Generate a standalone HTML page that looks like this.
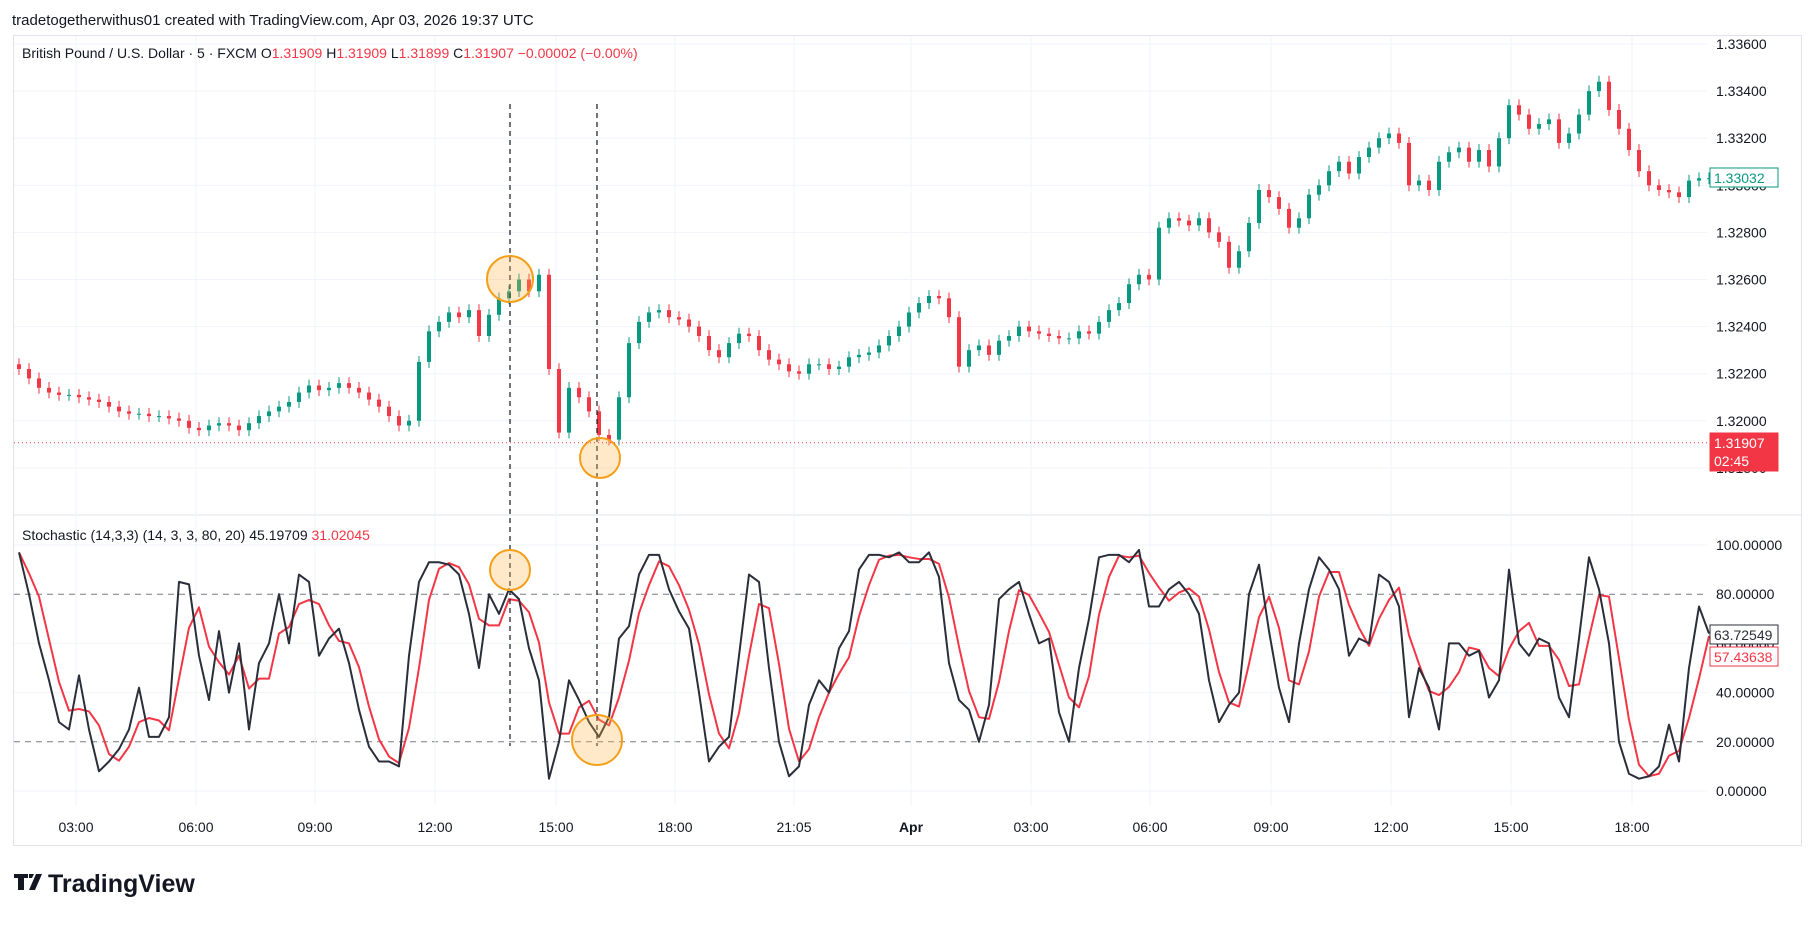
<!DOCTYPE html>
<html><head><meta charset="utf-8"><style>
body{margin:0;background:#fff;width:1814px;height:920px;overflow:hidden;font-family:"Liberation Sans",sans-serif}
svg text{font-family:"Liberation Sans",sans-serif}
</style></head><body>
<svg id="c" width="1814" height="920" xmlns="http://www.w3.org/2000/svg">
<text x="12" y="25" font-size="15" fill="#131722">tradetogetherwithus01 created with TradingView.com, Apr 03, 2026 19:37 UTC</text>
<rect x="13.5" y="35.5" width="1788" height="810" fill="#fff" stroke="#e0e3eb"/>
<line x1="14" y1="515" x2="1801" y2="515" stroke="#e0e3eb"/>
<g id="grid"></g><g id="marks"></g><g id="stoch"></g><g id="axes"></g><g id="annot"></g>
<text x="22" y="58" font-size="14" fill="#131722">British Pound / U.S. Dollar · 5 · FXCM  O<tspan fill="#f23645">1.31909</tspan>  H<tspan fill="#f23645">1.31909</tspan>  L<tspan fill="#f23645">1.31899</tspan>  C<tspan fill="#f23645">1.31907  −0.00002 (−0.00%)</tspan></text>
<text x="22" y="540" font-size="14" fill="#131722">Stochastic (14,3,3) (14, 3, 3, 80, 20)  45.19709  <tspan fill="#f23645">31.02045</tspan></text>
<g>
<path d="M14 874h14v4h-4v12h-6v-12h-4z M29 874h5l-2 4h-3z M36 874h6l-7 16h-6z" fill="#131722"/>
<text x="48" y="892" font-size="25" font-weight="bold" fill="#131722">TradingView</text>
</g>
</svg>
<script>
const closes=[22,18,14,12,11,11,10,9,8,6,4,3,3,2,2,1,0,-3,-4,-2,-1,-2,-4,-1,2,4,6,8,12,15,13,14,16,14,12,9,6,2,-2,0,25,38,42,46,44,47,36,45,52,55,60,55,62,22,-5,14,10,4,-6,-8,10,33,42,46,47,44,43,40,36,30,27,33,37,36,30,26,24,21,20,24,24,22,23,27,28,29,32,36,40,46,50,53,52,44,23,30,32,28,34,36,40,38,37,36,35,35,38,37,42,47,50,58,62,60,82,86,85,83,86,80,76,65,72,84,98,95,90,82,86,96,100,106,110,105,112,116,120,122,118,100,102,98,110,114,116,110,115,108,120,134,130,124,126,128,118,122,130,140,144,132,124,115,106,100,98,97,95,102,103,103];
const stochK=[97,80,60,45,28,25,47,25,8,12,17,25,42,22,22,30,85,84,55,37,65,40,60,25,52,60,80,60,88,85,55,62,66,52,33,18,12,12,10,55,85,93,93,92,88,72,50,80,72,82,78,58,45,5,20,45,37,28,22,30,62,67,88,96,96,82,73,66,40,12,18,22,55,88,85,50,20,6,10,35,45,40,58,65,90,96,96,95,97,93,93,97,87,52,37,33,20,35,78,82,85,72,60,62,32,20,50,70,95,96,96,93,98,75,75,82,85,80,72,45,28,35,40,80,92,65,42,28,60,82,95,90,82,55,62,60,88,85,75,30,50,42,25,60,60,55,57,38,45,90,60,55,62,60,38,30,62,95,82,60,20,7,5,6,10,27,12,50,75,64];
const priceTicks=[1.336,1.334,1.332,1.330,1.328,1.326,1.324,1.322,1.320,1.318];
const stochTicks=[100,80,60,40,20,0];
const timeLabels=["03:00","06:00","09:00","12:00","15:00","18:00","21:05","Apr","03:00","06:00","09:00","12:00","15:00","18:00"];
const timeIdx=[5.7,17.7,29.6,41.6,53.7,65.6,77.5,89.2,101.2,113.1,125.2,137.2,149.2,161.3];

const NS="http://www.w3.org/2000/svg";
function mk(tag,attrs,parent){const e=document.createElementNS(NS,tag);for(const k in attrs)e.setAttribute(k,attrs[k]);document.getElementById(parent).appendChild(e);return e;}
const xS=i=>14+i*10+5;
const yP=p=>44+(1.336-p)/0.002*47.1;
const yK=k=>791-k*2.46;
const pv=v=>1.32+v/10000;

priceTicks.forEach(t=>{const y=yP(t);
 const l=mk('line',{x1:14,x2:1707,y1:y,y2:y,stroke:'#f0f3fa'},'grid');
 
 
 if(y<505){const tx=mk('text',{x:1716,y:y+5,'font-size':14,fill:'#131722'},'axes');tx.textContent=t.toFixed(5);
 
 }
});
stochTicks.forEach(t=>{const y=yK(t);
 const dashed=(t===80||t===20);
 const l=mk('line',{x1:14,x2:1707,y1:y,y2:y,stroke:dashed?'#787b86':'#f0f3fa','stroke-dasharray':dashed?'6 5':'none'},'grid');
 
 
 const tx=mk('text',{x:1716,y:y+5,'font-size':14,fill:'#131722'},'axes');tx.textContent=t.toFixed(5);
 
 
});
timeLabels.forEach((s,j)=>{const x=xS(timeIdx[j]);
 const l=mk('line',{x1:x,x2:x,y1:36,y2:806,stroke:'#f0f3fa'},'grid');
 
 
 const tx=mk('text',{x:x,y:832,'font-size':14,fill:'#131722','text-anchor':'middle','font-weight':s==='Apr'?'bold':'normal'},'axes');tx.textContent=s;
 
 
});
closes.forEach((c,i)=>{
 const o=i===0?c+2:closes[i-1];
 const up=c>=o;const col=up?'#089981':'#f23645';
 const x=xS(i);
 const hi=Math.max(o,c)+2.5,lo=Math.min(o,c)-2.5;
 const w=mk('line',{x1:x,x2:x,y1:yP(pv(hi)),y2:yP(pv(lo)),stroke:col,'stroke-width':1},'marks');
 
 
 const y1=yP(pv(Math.max(o,c))),y2=yP(pv(Math.min(o,c)));
 const b=mk('rect',{x:x-2,y:y1,width:4,height:Math.max(1,y2-y1),fill:col},'marks');
 
 
});
const stochD=stochK.map((k,i)=>{const a=stochK.slice(Math.max(0,i-2),i+1);return a.reduce((s,v)=>s+v,0)/a.length;});
const dPath=stochD.map((v,i)=>(i?'L':'M')+xS(i)+' '+yK(v)).join(' ');
const kPath=stochK.map((v,i)=>(i?'L':'M')+xS(i)+' '+yK(v)).join(' ');
const dl=mk('path',{d:dPath,fill:'none',stroke:'#f23645','stroke-width':2,'stroke-linejoin':'round'},'stoch');


const kl=mk('path',{d:kPath,fill:'none',stroke:'#2a2e39','stroke-width':2,'stroke-linejoin':'round'},'stoch');


[[510,104,746],[597,104,746]].forEach(a=>{const l=mk('line',{x1:a[0],x2:a[0],y1:a[1],y2:a[2],stroke:'#131722','stroke-dasharray':'5 4','stroke-width':1.2},'annot');
 
 });
[[510,279,23],[600,458,20],[510,570,20],[597,740,25]].forEach(a=>{const c=mk('circle',{cx:a[0],cy:a[1],r:a[2],fill:'rgba(255,183,77,0.3)',stroke:'#f59f19','stroke-width':2},'annot');
 
 });
const ly=yP(1.31907);
const pl=mk('line',{x1:14,x2:1707,y1:ly,y2:ly,stroke:'#f23645','stroke-dasharray':'1 3'},'annot');


function box(y,h,fill,stroke,lines,col,name){const r=mk('rect',{x:1710,y:y,width:68,height:h,fill:fill,stroke:stroke},'annot');
 
 
 lines.forEach((s,j)=>{const t=mk('text',{x:1714,y:y+15+j*18,'font-size':14,fill:col},'annot');t.textContent=s;
 
 });}
box(168,19,'#fff','#089981',['1.33032'],'#089981','close-price-label');
box(433,38,'#f23645','#f23645',['1.31907','02:45'],'#fff','last-price-label');
box(625,19,'#fff','#2a2e39',['63.72549'],'#2a2e39','stoch-k-label');
box(647,19,'#fff','#f23645',['57.43638'],'#f23645','stoch-d-label');
</script>
</body></html>
